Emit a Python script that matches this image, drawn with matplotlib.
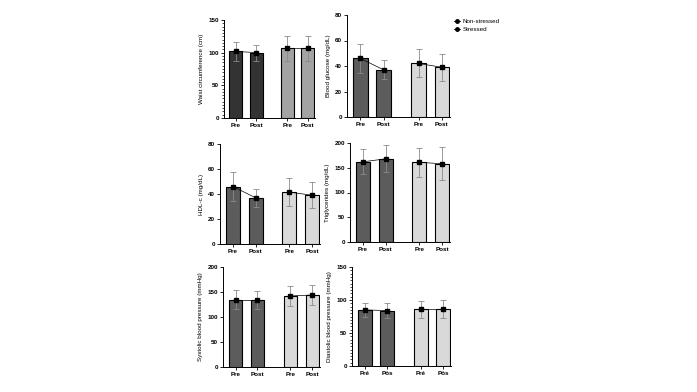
import numpy as np
import matplotlib.pyplot as plt
from matplotlib.ticker import MultipleLocator
from matplotlib.lines import Line2D

plt.rcParams['font.family'] = ['Liberation Sans', 'DejaVu Sans']
plt.rcParams['font.weight'] = 'bold'

labels = ["Pre", "Post", "Pre", "Post"]
labels_pt = ["Pré", "Pós", "Pré", "Pós"]

waist = [102, 100, 107, 107]
waist_sd = [14, 12, 19, 19]
glucose = [46, 37, 42, 39]
glucose_sd = [11.5, 7.5, 11, 10.5]
hdl = [46, 37, 41.5, 39]
hdl_sd = [11.5, 7, 11, 10.5]
trig = [162, 168, 161, 158]
trig_sd = [25, 27, 29, 33]
sbp = [135, 135, 142, 144]
sbp_sd = [19, 18, 20, 20]
dbp = [85, 84, 86, 86]
dbp_sd = [10, 11, 13, 14]

W, H = 697, 392
fig = plt.figure(figsize=(W / 100, H / 100), dpi=100)

pos = np.array([0, 1, 2.5, 3.5])


def panel(rect, vals, sds, ylabel, ymax, ystep, cols, xlabels, minor=None):
    x0, y0, x1, y1 = rect
    ax = fig.add_axes([x0 / W, 1 - y1 / H, (x1 - x0) / W, (y1 - y0) / H])
    ax.bar(pos, vals, width=0.62, color=cols, edgecolor="black", linewidth=0.8, zorder=2)
    ax.errorbar(pos, vals, yerr=sds, fmt="none", ecolor="#8a8a8a", elinewidth=0.6,
                capsize=2.5, capthick=0.6, zorder=3)
    ax.plot(pos[:2], vals[:2], color="black", lw=0.5, marker="s", ms=2.5, zorder=4)
    ax.plot(pos[2:], vals[2:], color="black", lw=0.5, marker="s", ms=2.5, zorder=4)
    ax.set_xlim(-0.57, 3.85)
    ax.set_ylim(0, ymax)
    ax.set_yticks(np.arange(0, ymax + 1, ystep))
    if minor:
        ax.yaxis.set_minor_locator(MultipleLocator(minor))
        ax.tick_params(axis="y", which="minor", length=1.2, width=0.5)
    ax.set_xticks(pos)
    ax.set_xticklabels(xlabels)
    ax.tick_params(labelsize=4.5, length=2, width=0.6, pad=1.5)
    ax.set_ylabel(ylabel, fontsize=4.5, labelpad=3)
    for s in ["top", "right"]:
        ax.spines[s].set_visible(False)
    for s in ["left", "bottom"]:
        ax.spines[s].set_linewidth(0.7)
    return ax


dark1 = ["#333333", "#333333", "#a3a3a3", "#a3a3a3"]
dark2 = ["#5c5c5c", "#5c5c5c", "#d9d9d9", "#d9d9d9"]

panel((224, 20, 315, 118), waist, waist_sd, "Waist circumference (cm)", 150, 50, dark1, labels, minor=5)
panel((347, 15, 450, 117), glucose, glucose_sd, "Blood glucose (mg/dL)", 80, 20, dark2, labels)
panel((220, 144, 320, 244), hdl, hdl_sd, "HDL-c (mg/dL)", 80, 20, dark2, labels)
panel((350, 143, 450, 242), trig, trig_sd, "Triglycerides (mg/dL)", 200, 50, dark2, labels)
panel((223, 267, 320, 367), sbp, sbp_sd, "Systolic blood pressure (mmHg)", 200, 50, dark2, labels)
panel((352, 267, 451, 366), dbp, dbp_sd, "Diastolic blood pressure (mmHg)", 150, 50, dark2, labels_pt, minor=5)

handles = [Line2D([], [], color="black", marker="o", ms=2.5, lw=0.6),
           Line2D([], [], color="black", marker="o", ms=2.5, lw=0.6)]
fig.legend(handles, ["Non-stressed", "Stressed"], loc="upper left",
           bbox_to_anchor=(448 / W, 1 - 13 / H), frameon=False,
           handlelength=1.0, handletextpad=0.5, labelspacing=0.4,
           prop={"weight": "normal", "size": 4.5})

fig.savefig("out.png", dpi=100, facecolor="white")
